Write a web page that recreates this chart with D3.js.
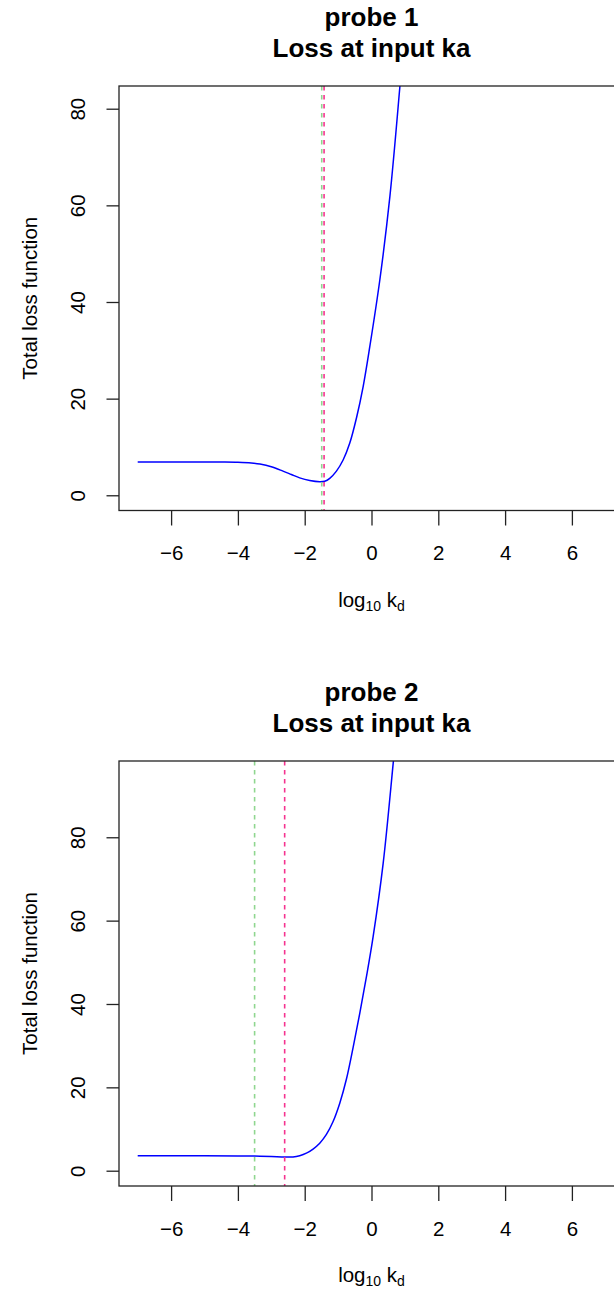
<!DOCTYPE html>
<html>
<head>
<meta charset="utf-8">
<script src="https://cdn.jsdelivr.net/npm/d3@7"></script>
<style>
  body { margin: 0; background: #fff; }
  text { font-family: "Liberation Sans", Arial, sans-serif; fill: #000; }
</style>
</head>
<body>
<svg class="chart"></svg>
<script>
// probe 1 curve: log10 kd vs total loss
var kd1 = [-7, -6, -5, -4.5, -4, -3.6, -3.34, -3, -2.65, -2.4, -2.15, -1.85, -1.55, -1.4, -1.25, -1.05, -0.85, -0.65, -0.45, -0.25, -0.05, 0.25, 0.55, 0.85, 1.0];
var loss1 = [6.9, 6.9, 6.89, 6.87, 6.82, 6.68, 6.45, 5.9, 5.0, 4.3, 3.6, 3.05, 2.8, 2.9, 3.5, 5.0, 7.3, 10.8, 16, 22.5, 30.8, 44.6, 61.8, 84.6, 97];
// probe 2 curve
var kd2 = [-7, -5, -4, -3.5, -3, -2.6, -2.35, -2.15, -1.95, -1.75, -1.55, -1.35, -1.15, -0.95, -0.75, -0.55, -0.35, -0.15, 0.05, 0.35, 0.65, 0.75];
var loss2 = [3.6, 3.6, 3.55, 3.5, 3.4, 3.3, 3.3, 3.6, 4.2, 5.2, 6.6, 8.7, 11.8, 16.2, 22.0, 29.6, 37.8, 46.6, 56.2, 73.8, 97.8, 106];

var titles = ["probe 1", "probe 2"];
var subtitle = "Loss at input ka";
var xLim = [-7.56, 7.56];
var yLim1 = [-3.15, 84.7];
var yLim2 = [-3.67, 98.3];
var xTicks = [-6, -4, -2, 0, 2, 4, 6];
var yTicks = [0, 20, 40, 60, 80];
var greenLines = [-1.49, -3.50];
var pinkLines = [-1.42, -2.60];

function show() {
    'use strict';
    var W = 614, H = 1293;
    var svg = d3.select(".chart").attr("width", W).attr("height", H);

    var panels = [
        {top: 86, bottom: 510.5, kd: kd1, loss: loss1, ylim: yLim1},
        {top: 761, bottom: 1186, kd: kd2, loss: loss2, ylim: yLim2}
    ];
    var left = 119, right = 624;
    var fs = 20.5;

    panels.forEach(function(p, i) {
        var x = d3.scaleLinear().domain(xLim).range([left, right]);
        var y = d3.scaleLinear().domain(p.ylim).range([p.bottom, p.top]);
        var g = svg.append("g");

        g.append("defs").append("clipPath").attr("id", "clip-" + i)
            .append("rect")
            .attr("x", left).attr("y", p.top)
            .attr("width", right - left).attr("height", p.bottom - p.top);

        var plot = g.append("g").attr("clip-path", "url(#clip-" + i + ")");

        var line = d3.line()
            .x(function(d) { return x(d[0]); })
            .y(function(d) { return y(d[1]); })
            .curve(d3.curveCatmullRom.alpha(0.5));

        plot.append("path")
            .datum(d3.zip(p.kd, p.loss))
            .attr("d", line)
            .attr("fill", "none")
            .attr("stroke", "#0000ff")
            .attr("stroke-width", 1.5);

        plot.append("line")
            .attr("x1", x(greenLines[i])).attr("x2", x(greenLines[i]))
            .attr("y1", p.top).attr("y2", p.bottom)
            .attr("stroke", "#8fd68f").attr("stroke-width", 1.6)
            .attr("stroke-dasharray", "4.5,4.5");

        plot.append("line")
            .attr("x1", x(pinkLines[i])).attr("x2", x(pinkLines[i]))
            .attr("y1", p.top).attr("y2", p.bottom)
            .attr("stroke", "#f5338f").attr("stroke-width", 1.6)
            .attr("stroke-dasharray", "4.5,4.5");

        // box
        g.append("rect")
            .attr("x", left).attr("y", p.top)
            .attr("width", right - left).attr("height", p.bottom - p.top)
            .attr("fill", "none").attr("stroke", "#222").attr("stroke-width", 1.3);

        // x axis
        var xa = g.append("g")
            .attr("transform", "translate(0," + p.bottom + ")")
            .call(d3.axisBottom(x).tickValues(xTicks).tickSize(15));
        xa.select(".domain").remove();
        xa.selectAll(".tick line").attr("stroke", "#222").attr("stroke-width", 1.3);
        xa.selectAll(".tick text")
            .attr("font-family", "Liberation Sans, Arial, sans-serif")
            .attr("font-size", fs).attr("fill", "#000")
            .attr("dy", 0).attr("y", 49.5);

        // y axis
        var ya = g.append("g")
            .attr("transform", "translate(" + left + ",0)")
            .call(d3.axisLeft(y).tickValues(yTicks).tickSize(12.5));
        ya.select(".domain").remove();
        ya.selectAll(".tick line").attr("stroke", "#222").attr("stroke-width", 1.3);
        ya.selectAll(".tick text")
            .attr("font-family", "Liberation Sans, Arial, sans-serif")
            .attr("font-size", fs).attr("fill", "#000")
            .attr("text-anchor", "middle")
            .attr("transform", "rotate(-90)")
            .attr("x", 0).attr("y", -34).attr("dy", 0);

        // titles
        var cx = (left + right) / 2;
        g.append("text")
            .attr("x", cx).attr("y", p.top - 60)
            .attr("text-anchor", "middle")
            .attr("font-weight", "bold").attr("font-size", 26)
            .text(titles[i]);
        g.append("text")
            .attr("x", cx).attr("y", p.top - 29)
            .attr("text-anchor", "middle")
            .attr("font-weight", "bold").attr("font-size", 26)
            .text(subtitle);

        // x label
        var xl = g.append("text")
            .attr("x", cx).attr("y", p.bottom + 96)
            .attr("text-anchor", "middle")
            .attr("font-size", fs);
        xl.append("tspan").text("log");
        xl.append("tspan").attr("font-size", 14).attr("dy", 4).text("10");
        xl.append("tspan").attr("dy", -4).text(" k");
        xl.append("tspan").attr("font-size", 14).attr("dy", 4).text("d");

        // y label
        g.append("text")
            .attr("transform", "translate(37," + ((p.top + p.bottom) / 2) + ") rotate(-90)")
            .attr("text-anchor", "middle")
            .attr("font-size", fs)
            .text("Total loss function");
    });
}
show();
</script>
</body>
</html>
